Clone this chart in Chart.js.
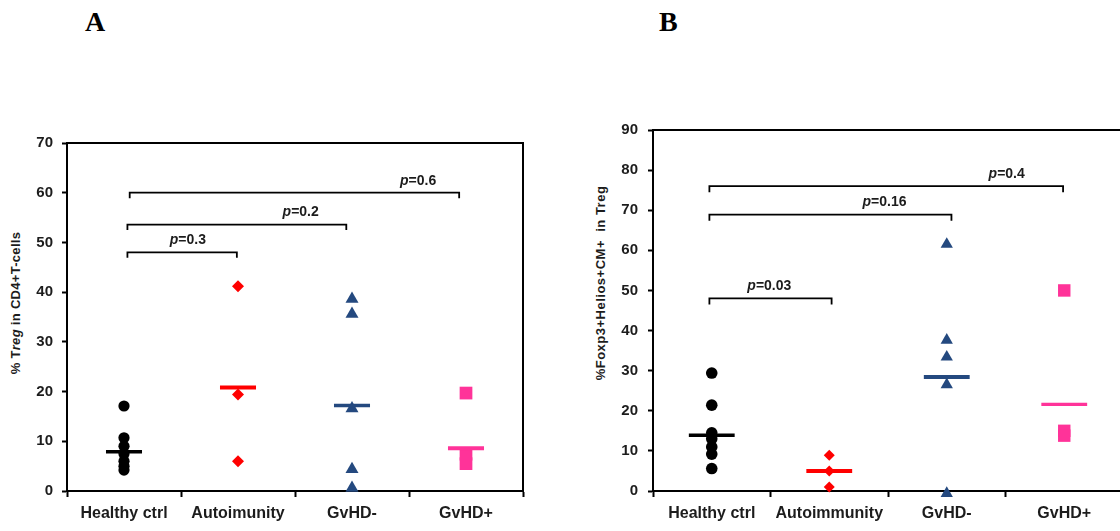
<!DOCTYPE html>
<html><head><meta charset="utf-8">
<script src="https://cdn.jsdelivr.net/npm/chart.js@4.4.1/dist/chart.umd.min.js"></script>
<style>
html,body{margin:0;padding:0;background:#fff;overflow:hidden;width:1120px;height:531px;position:relative;}
#cA{position:absolute;left:0;top:0;}
#cB{position:absolute;left:560px;top:0;}
.letter{position:absolute;font-family:"Liberation Serif","DejaVu Serif",serif;font-weight:bold;font-size:28px;color:#000;line-height:1;}
.ytitle{position:absolute;font-family:"Liberation Sans",Arial,sans-serif;font-weight:bold;color:#1c1c1c;white-space:pre;transform:translate(-50%,-50%) rotate(-90deg);line-height:1;}
</style></head>
<body>
<div class="letter" style="left:85px;top:8px;">A</div>
<div class="letter" style="left:659px;top:8px;">B</div>
<div class="ytitle" style="left:15px;top:303px;font-size:13px;letter-spacing:0.3px;">% T<i>reg</i> in CD4+T-cells</div>
<div class="ytitle" style="left:600px;top:283px;font-size:13px;letter-spacing:0.5px;">%Foxp3+Helios+CM+  in Treg</div>
<canvas id="cA" width="560" height="531"></canvas>
<canvas id="cB" width="600" height="531"></canvas>
<script>
// ---------- Panel A data ----------
const categoriesA = ['Healthy ctrl', 'Autoimunity', 'GvHD-', 'GvHD+'];
const healthyA = [17.1, 10.7, 9.0, 7.5, 6.0, 5.0, 4.2];
const autoA = [41.2, 19.4, 6.0];
const gvhdNegA = [38.6, 35.6, 16.6, 4.4, 0.6];
const gvhdPosA = [19.7, 7.4, 5.5];
const medianA = [7.9, 20.8, 17.2, 8.6];
const yTicksA = [0, 10, 20, 30, 40, 50, 60, 70];
const bracketFromA = [0.53, 0.53, 0.55];
const bracketToA = [1.49, 2.45, 3.44];
const bracketYA = [48.0, 53.6, 60.0];
const pValuesA = ['0.3', '0.2', '0.6'];
const pLabelXA = [1.06, 2.05, 3.08];

// ---------- Panel B data ----------
const categoriesB = ['Healthy ctrl', 'Autoimmunity', 'GvHD-', 'GvHD+'];
const healthyB = [29.4, 21.4, 14.5, 13.0, 11.0, 9.2, 5.6];
const autoB = [8.9, 5.0, 1.0];
const gvhdNegB = [61.5, 37.6, 33.4, 26.5, -0.6];
const gvhdPosB = [50.0, 15.0, 13.8];
const medianB = [13.9, 5.0, 28.4, 21.6];
const yTicksB = [0, 10, 20, 30, 40, 50, 60, 70, 80, 90];
const bracketFromB = [0.48, 0.48, 0.48];
const bracketToB = [1.52, 2.54, 3.49];
const bracketYB = [48.0, 68.9, 76.0];
const pValuesB = ['0.03', '0.16', '0.4'];
const pLabelXB = [0.99, 1.97, 3.01];

const COLORS = ['#000000', '#ff0000', '#24497f', '#ff3399'];
const FONT = '"Liberation Sans", Arial, sans-serif';
const TEXT = '#1c1c1c';

function buildChart(canvasId, cfg) {
  const n = cfg.categories.length;
  const datasets = [];
  cfg.groups.forEach((vals, i) => {
    datasets.push({
      type: 'scatter',
      data: vals.map(v => ({x: i + 0.5, y: v})),
      pointStyle: cfg.styles[i],
      pointRadius: cfg.radii[i],
      pointBackgroundColor: COLORS[i],
      pointBorderColor: COLORS[i],
      pointBorderWidth: 0,
      clip: false,
      order: 2
    });
  });
  cfg.medians.forEach((m, i) => {
    datasets.push({
      type: 'line',
      data: [{x: i + 0.5 - cfg.halfWidth, y: m}, {x: i + 0.5 + cfg.halfWidth, y: m}],
      borderColor: COLORS[i],
      borderWidth: cfg.medianWidths[i],
      borderCapStyle: 'butt',
      pointRadius: 0,
      clip: false,
      order: 1
    });
  });
  cfg.bFrom.forEach((f, k) => {
    const t = cfg.bTo[k], y = cfg.bY[k], d = cfg.drop;
    datasets.push({
      type: 'line',
      data: [{x: f, y: y - d}, {x: f, y: y}, {x: t, y: y}, {x: t, y: y - d}],
      borderColor: '#000',
      borderWidth: 1.8,
      borderJoinStyle: 'miter',
      borderCapStyle: 'butt',
      pointRadius: 0,
      tension: 0,
      order: 1
    });
  });

  const xTickValues = [];
  for (let i = 0; i <= n; i++) { xTickValues.push(i); if (i < n) xTickValues.push(i + 0.5); }

  const framePlugin = {
    id: 'frame',
    beforeDatasetsDraw(chart) {
      const {ctx, chartArea: a} = chart;
      ctx.save();
      ctx.strokeStyle = '#000';
      ctx.lineWidth = 2;
      ctx.strokeRect(a.left, a.top, a.right - a.left, a.bottom - a.top);
      ctx.restore();
    }
  };
  const pPlugin = {
    id: 'plabels',
    afterDatasetsDraw(chart) {
      const {ctx} = chart;
      const xs = chart.scales.x, ys = chart.scales.y;
      ctx.save();
      ctx.fillStyle = TEXT;
      ctx.textBaseline = 'middle';
      ctx.textAlign = 'left';
      cfg.pValues.forEach((pv, k) => {
        const cx = xs.getPixelForValue(cfg.pLabelX[k]);
        const cy = ys.getPixelForValue(cfg.bY[k]) - 12;
        const f1 = 'italic bold 14px ' + FONT, f2 = 'bold 14px ' + FONT;
        ctx.font = f1; const w1 = ctx.measureText('p').width;
        ctx.font = f2; const s2 = '=' + pv; const w2 = ctx.measureText(s2).width;
        const x0 = cx - (w1 + w2) / 2;
        ctx.font = f1; ctx.fillText('p', x0, cy);
        ctx.font = f2; ctx.fillText(s2, x0 + w1, cy);
      });
      ctx.restore();
    }
  };

  return new Chart(document.getElementById(canvasId), {
    data: {datasets},
    plugins: [framePlugin, pPlugin],
    options: {
      responsive: false,
      animation: false,
      events: [],
      layout: {padding: cfg.padding},
      plugins: {legend: {display: false}, tooltip: {enabled: false}},
      scales: {
        x: {
          type: 'linear', min: 0, max: n,
          afterBuildTicks: s => { s.ticks = xTickValues.map(v => ({value: v})); },
          afterFit: s => { s.height = cfg.xHeight; },
          ticks: {
            autoSkip: false, maxRotation: 0, minRotation: 0, padding: 7,
            color: TEXT, font: {family: FONT, size: 16, weight: 'bold'},
            callback: v => Number.isInteger(v) ? '' : cfg.categories[Math.floor(v)]
          },
          grid: {
            drawOnChartArea: false, drawTicks: true, tickLength: 6, tickWidth: 2,
            tickColor: c => (c.tick && Number.isInteger(c.tick.value)) ? '#000' : 'rgba(0,0,0,0)'
          },
          border: {display: true, color: '#000', width: 2}
        },
        y: {
          type: 'linear', min: cfg.yTicks[0], max: cfg.yTicks[cfg.yTicks.length - 1],
          afterBuildTicks: s => { s.ticks = cfg.yTicks.map(v => ({value: v})); },
          afterFit: s => { s.width = cfg.yWidth; },
          ticks: {padding: cfg.yPad, color: TEXT, font: {family: FONT, size: 15, weight: 'bold'}},
          grid: {drawOnChartArea: false, drawTicks: true, tickLength: 5, tickWidth: 2, tickColor: '#000'},
          border: {display: true, color: '#000', width: 2}
        }
      }
    }
  });
}

buildChart('cA', {
  categories: categoriesA,
  groups: [healthyA, autoA, gvhdNegA, gvhdPosA],
  styles: ['circle', 'rectRot', 'triangle', 'rect'],
  radii: [5.6, 6, 7.5, 9],
  medians: medianA,
  medianWidths: [3.5, 4, 3.5, 4],
  halfWidth: 0.158,
  bFrom: bracketFromA, bTo: bracketToA, bY: bracketYA, drop: 1.1,
  pValues: pValuesA, pLabelX: pLabelXA,
  yTicks: yTicksA,
  padding: {left: 0, right: 37, top: 143, bottom: 0},
  xHeight: 40, yWidth: 67, yPad: 9
});

buildChart('cB', {
  categories: categoriesB,
  groups: [healthyB, autoB, gvhdNegB, gvhdPosB],
  styles: ['circle', 'rectRot', 'triangle', 'rect'],
  radii: [5.8, 5.5, 7.1, 8.8],
  medians: medianB,
  medianWidths: [3.5, 4, 4, 3.3],
  halfWidth: 0.195,
  bFrom: bracketFromB, bTo: bracketToB, bY: bracketYB, drop: 1.5,
  pValues: pValuesB, pLabelX: pLabelXB,
  yTicks: yTicksB,
  padding: {left: 0, right: 37, top: 130, bottom: 0},
  xHeight: 40, yWidth: 93, yPad: 10
});
</script>
</body></html>
